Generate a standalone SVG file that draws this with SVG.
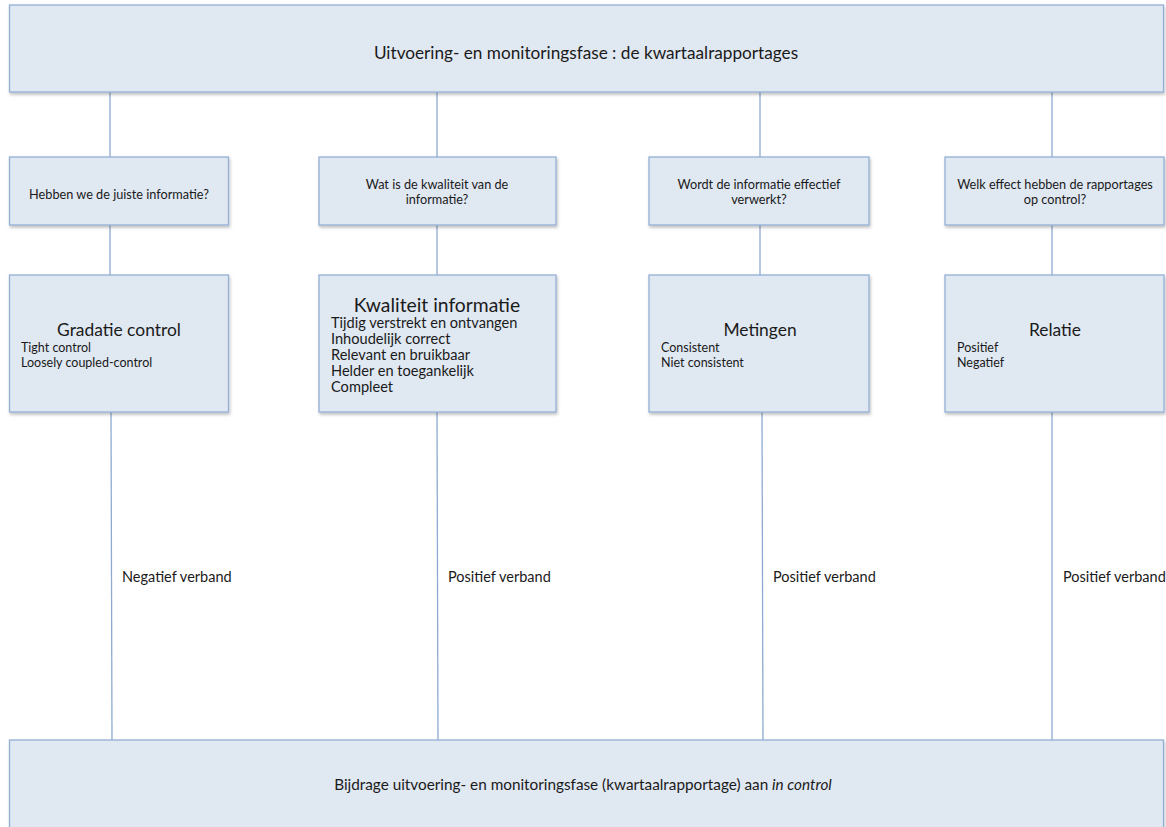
<svg xmlns="http://www.w3.org/2000/svg" width="1166" height="827" viewBox="0 0 1166 827">
<defs>
<filter id="sh" x="-5%" y="-5%" width="110%" height="120%">
<feDropShadow dx="1" dy="2" stdDeviation="1.5" flood-color="#000" flood-opacity="0.25"/>
</filter>
<style>
.box{fill:#e0e8f2;stroke:#94b0d4;stroke-width:1.3;filter:url(#sh)}
.ln{stroke:#8faad0;stroke-width:1.3;fill:none}
text{font-family:Lato,"Open Sans","Liberation Sans",sans-serif;fill:#1a1a1a}
.t{font-size:17.2px;text-anchor:middle}
.b{font-size:15.3px;text-anchor:middle}
.q{font-size:12.7px;text-anchor:middle}
.h{font-size:17.4px;text-anchor:middle}
.h2{font-size:19.3px;text-anchor:middle}
.i{font-size:12.5px}
.i2{font-size:14.6px}
.l{font-size:14.5px}
</style>
</defs>
<rect width="1166" height="827" fill="#fff"/>
<g id="connectors">
<line class="ln" x1="110" y1="92" x2="110" y2="157"/>
<line class="ln" x1="437" y1="92" x2="437" y2="157"/>
<line class="ln" x1="760" y1="92" x2="760" y2="157"/>
<line class="ln" x1="1052" y1="92" x2="1052" y2="157"/>
<line class="ln" x1="110" y1="225" x2="110" y2="275"/>
<line class="ln" x1="437" y1="225" x2="437" y2="275"/>
<line class="ln" x1="760" y1="225" x2="760" y2="275"/>
<line class="ln" x1="1052" y1="225" x2="1052" y2="275"/>
<line class="ln" x1="111" y1="412" x2="112" y2="740"/>
<line class="ln" x1="437" y1="412" x2="438" y2="740"/>
<line class="ln" x1="762" y1="412" x2="763" y2="740"/>
<line class="ln" x1="1052" y1="412" x2="1052" y2="740"/>
<text class="l" x="122" y="582">Negatief verband</text>
<text class="l" x="448" y="582">Positief verband</text>
<text class="l" x="773" y="582">Positief verband</text>
<text class="l" x="1063" y="582">Positief verband</text>
</g>
<g id="top">
<rect class="box" x="9.5" y="5" width="1154" height="87"/>
<text class="t" x="586" y="59">Uitvoering- en monitoringsfase : de kwartaalrapportages</text>
</g>
<g id="q1">
<rect class="box" x="9.5" y="157" width="219" height="68"/>
<text class="q" x="119" y="199">Hebben we de juiste informatie?</text>
</g>
<g id="q2">
<rect class="box" x="319" y="157" width="237" height="68"/>
<text class="q" x="437" y="189">Wat is de kwaliteit van de</text>
<text class="q" x="437" y="204">informatie?</text>
</g>
<g id="q3">
<rect class="box" x="649" y="157" width="220" height="68"/>
<text class="q" x="759" y="189">Wordt de informatie effectief</text>
<text class="q" x="759" y="204">verwerkt?</text>
</g>
<g id="q4">
<rect class="box" x="945" y="157" width="219" height="68"/>
<text class="q" x="1055" y="189">Welk effect hebben de rapportages</text>
<text class="q" x="1055" y="204">op control?</text>
</g>
<g id="b1">
<rect class="box" x="9.5" y="275" width="219" height="137"/>
<text class="h" x="119" y="336">Gradatie control</text>
<text class="i" x="21" y="352">Tight control</text>
<text class="i" x="21" y="367">Loosely coupled-control</text>
</g>
<g id="b2">
<rect class="box" x="319" y="275" width="237" height="137"/>
<text class="h2" x="437" y="312">Kwaliteit informatie</text>
<text class="i2" x="331" y="328">Tijdig verstrekt en ontvangen</text>
<text class="i2" x="331" y="344">Inhoudelijk correct</text>
<text class="i2" x="331" y="360">Relevant en bruikbaar</text>
<text class="i2" x="331" y="376">Helder en toegankelijk</text>
<text class="i2" x="331" y="392">Compleet</text>
</g>
<g id="b3">
<rect class="box" x="649" y="275" width="220" height="137"/>
<text class="h" x="760" y="336">Metingen</text>
<text class="i" x="661" y="352">Consistent</text>
<text class="i" x="661" y="367">Niet consistent</text>
</g>
<g id="b4">
<rect class="box" x="945" y="275" width="219" height="137"/>
<text class="h" x="1055" y="336">Relatie</text>
<text class="i" x="957" y="352">Positief</text>
<text class="i" x="957" y="367">Negatief</text>
</g>
<g id="bottom">
<rect class="box" x="9.5" y="740" width="1154" height="95"/>
<text class="b" x="583" y="790">Bijdrage uitvoering- en monitoringsfase (kwartaalrapportage) aan <tspan font-style="italic">in control</tspan></text>
</g>
</svg>
